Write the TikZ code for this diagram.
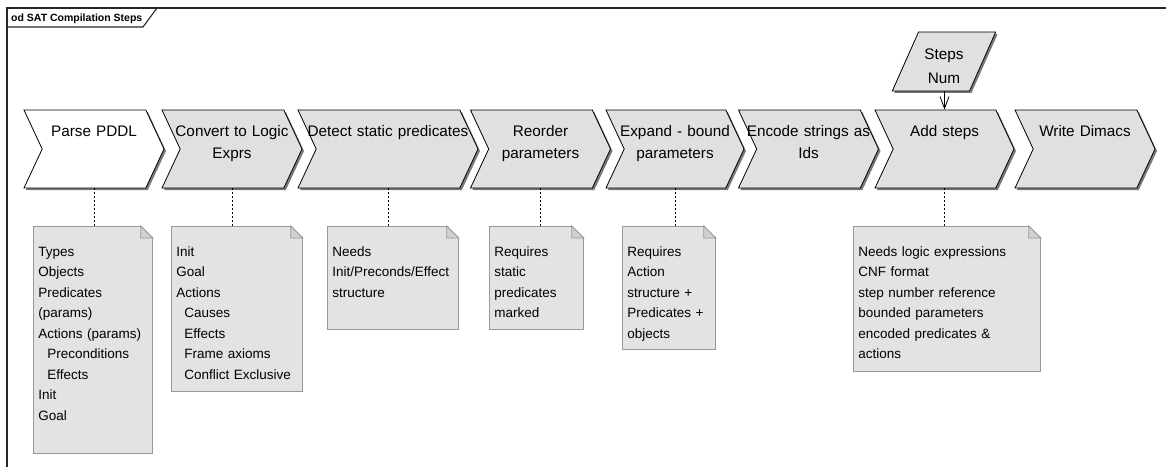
\documentclass[tikz,border=0pt]{standalone}
\usepackage{fontspec}
\setmainfont{Liberation Sans}
\usetikzlibrary{shapes.symbols, shapes.geometric, shadows, arrows.meta}

\tikzset{
  sombra/.style={drop shadow={shadow xshift=2pt, shadow yshift=-2pt, fill=black!75, opacity=0.7}},
  paso/.style={shape=signal, signal from=west, signal to=east,
    signal pointer angle=130, draw=black, line width=0.8pt, fill=black!12,
    minimum height=78pt, minimum width=#1, inner sep=0pt, sombra},
  texto/.style={anchor=north, inner sep=0pt, text width=180pt, align=center,
    text height=27pt, font=\fontsize{15.3}{22}\selectfont},
  nota/.style={anchor=north west, draw=black!40, line width=0.8pt, fill=black!11,
    inner xsep=5pt, inner ysep=0pt, text width=#1, align=left,
    text height=30pt, font=\fontsize{13.5}{20.5}\selectfont},
  doblez/.style={draw=black!40, line width=0.8pt, fill=black!18},
  conector/.style={dash pattern=on 2pt off 2pt, line width=0.8pt},
  marco/.style={line width=1.1pt, draw=black!85}
}

\begin{document}
\begin{tikzpicture}[x=1pt, y=-1pt, >={Straight Barb[length=12pt, width=9pt]}]
  \useasboundingbox (0,0) rectangle (1166,466);

  % Marco del diagrama
  \draw[marco] (7,470) -- (7,8) -- (1170,8);
  \draw[marco] (7,27) -- (143,27) -- (157,8);
  \node[anchor=base west, inner sep=0pt, font=\fontsize{10.5}{12}\selectfont\bfseries] (titulo) at (11,21.5) {od SAT Compilation Steps};

  % Pasos
  \node[paso=140pt, fill=white, label={[texto, name=parse-t]north:Parse PDDL}] (parse) at (94,149) {};
  \node[paso=140pt, label={[texto, name=convert-t]north:Convert to Logic\\Exprs}] (convert) at (232,149) {};
  \node[paso=180pt, label={[texto, name=detect-t]north:Detect static predicates}] (detect) at (388,149) {};
  \node[paso=140pt, label={[texto, name=reorder-t]north:Reorder\\parameters}] (reorder) at (540.5,149) {};
  \node[paso=138pt, label={[texto, name=expand-t]north:Expand - bound\\parameters}] (expand) at (675,149) {};
  \node[paso=140pt, label={[texto, name=encode-t]north:Encode strings as\\Ids}] (encode) at (808.5,149) {};
  \node[paso=139pt, label={[texto, name=add-t]north:Add steps}] (add) at (944.5,149) {};
  \node[paso=140pt, label={[texto, name=write-t]north:Write Dimacs}] (write) at (1085,149) {};

  % Entrada: numero de pasos
  \node[shape=trapezium, trapezium left angle=66, trapezium right angle=114,
    draw=black, line width=0.8pt, fill=black!12, minimum width=104pt, minimum height=53pt,
    inner sep=0pt, align=center, font=\fontsize{15.3}{24}\selectfont, sombra] (pasos) at (944,61.5) {\rule{0pt}{21pt}Steps\\Num};
  \draw[->, line width=0.8pt] (add.north |- pasos.south) -- (add.north);

  % Notas
  \node[nota=109pt, text depth=197pt] (notaParse) at (33,226)
    {Types\\Objects\\Predicates\\(params)\\Actions (params)\\\hspace*{9pt}Preconditions\\\hspace*{9pt}Effects\\Init\\Goal};
  \node[nota=121pt, text depth=135pt] (notaConvert) at (171,226)
    {Init\\Goal\\Actions\\\hspace*{8pt}Causes\\\hspace*{8pt}Effects\\\hspace*{8pt}Frame axioms\\\hspace*{8pt}Conflict Exclusive};
  \node[nota=121pt, text depth=73pt] (notaDetect) at (327,226)
    {Needs\\Init/Preconds/Effect\\structure};
  \node[nota=84pt, text depth=73pt] (notaReorder) at (489,226)
    {Requires\\static\\predicates\\marked};
  \node[nota=83pt, text depth=93pt] (notaExpand) at (622,226)
    {Requires\\Action\\structure +\\Predicates +\\objects};
  \node[nota=177pt, text depth=115pt] (notaAdd) at (853,226)
    {Needs logic expressions\\CNF format\\step number reference\\bounded parameters\\encoded predicates \&\\actions};

  % Esquinas dobladas
  \foreach \n in {notaParse, notaConvert, notaDetect, notaReorder, notaExpand, notaAdd} {
    \fill[white] ([shift={(1pt,1pt)}]\n.north east) -- ([xshift=-12pt, yshift=1pt]\n.north east) -- ([xshift=1pt, yshift=-12pt]\n.north east) -- cycle;
    \draw[doblez] ([xshift=-12pt]\n.north east) -- ([yshift=-12pt]\n.north east) -- ([shift={(-12pt,-12pt)}]\n.north east) -- cycle;
  }

  % Conectores punteados
  \draw[conector] (parse.south) -- (parse.south |- notaParse.north);
  \draw[conector] (convert.south) -- (convert.south |- notaConvert.north);
  \draw[conector] (detect.south) -- (detect.south |- notaDetect.north);
  \draw[conector] (reorder.south) -- (reorder.south |- notaReorder.north);
  \draw[conector] (expand.south) -- (expand.south |- notaExpand.north);
  \draw[conector] (add.south) -- (add.south |- notaAdd.north);

\end{tikzpicture}
\end{document}
